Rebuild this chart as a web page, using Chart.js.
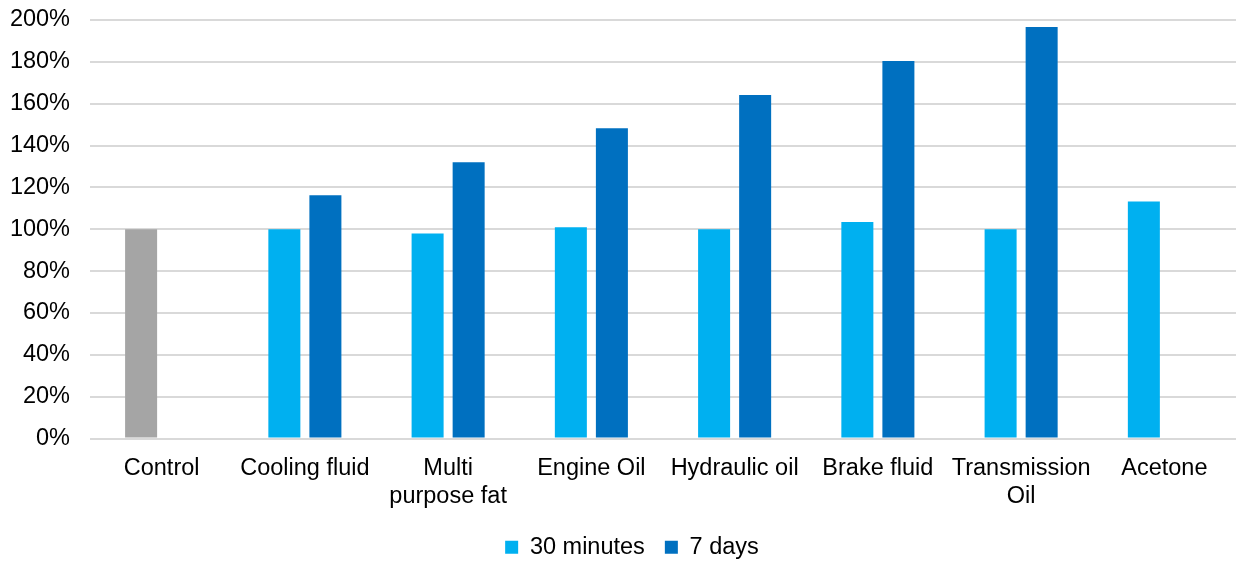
<!DOCTYPE html>
<html>
<head>
<meta charset="utf-8">
<script src="https://cdn.jsdelivr.net/npm/chart.js@4/dist/chart.umd.min.js"></script>
<style>
  html, body { margin: 0; padding: 0; background: #fff; overflow: hidden; }
  #wrap { width: 1239px; height: 569px; }
</style>
</head>
<body>
<div id="wrap"><canvas id="chart"></canvas></div>
<script>
const categories = [
  "Control", "Cooling fluid", ["Multi", "purpose fat"], "Engine Oil",
  "Hydraulic oil", "Brake fluid", ["Transmission", "Oil"], "Acetone"
];
const thirtyMinutes = [100, 100, 98, 101, 100, 103.5, 100, 113.3];
const sevenDays = [null, 116.2, 132, 148.3, 164.2, 180.4, 196.7, null];
const yTicks = [0, 20, 40, 60, 80, 100, 120, 140, 160, 180, 200];

const lightBlue = "#00B0F0";
const darkBlue = "#0070C0";
const grey = "#A5A5A5";

Chart.defaults.font.family = "'Liberation Sans', Arial, sans-serif";
Chart.defaults.font.size = 23.5;
Chart.defaults.color = "#000";

// nudge the legend a bit to the right, like the original
const shiftLegend = {
  id: "shiftLegend",
  afterLayout(chart) {
    chart.legend.left += 14;
    chart.legend.right += 14;
  },
};

const ctx = document.getElementById("chart");

new Chart(ctx, {
  type: "bar",
  data: {
    labels: categories,
    datasets: [
      {
        label: "30 minutes",
        data: thirtyMinutes,
        backgroundColor: thirtyMinutes.map((v, i) => (i === 0 ? grey : lightBlue)),
        categoryPercentage: 0.573,
        barPercentage: 0.78,
      },
      {
        label: "7 days",
        data: sevenDays,
        backgroundColor: darkBlue,
        categoryPercentage: 0.573,
        barPercentage: 0.78,
      },
    ],
  },
  plugins: [shiftLegend],
  options: {
    responsive: true,
    maintainAspectRatio: false,
    animation: false,
    layout: { padding: { top: 20, right: 3, left: 0, bottom: 0 } },
    scales: {
      y: {
        min: 0,
        max: 200,
        afterBuildTicks: (scale) => {
          scale.ticks = yTicks.map((v) => ({ value: v }));
        },
        afterFit: (scale) => {
          scale.width = 90;
          scale.paddingTop = 0;
          scale.paddingBottom = 0;
        },
        ticks: {
          padding: 20,
          callback: (value) => value + "%",
        },
        grid: { color: "#d9d9d9", lineWidth: 2, drawTicks: false },
        border: { display: false },
      },
      x: {
        grid: { display: false },
        border: { display: false },
        afterFit: (scale) => {
          scale.height = 77;
        },
        ticks: { padding: 8, maxRotation: 0, autoSkip: false },
      },
    },
    plugins: {
      legend: {
        position: "bottom",
        labels: {
          boxWidth: 13,
          boxHeight: 13,
          padding: 20,
          generateLabels: (chart) =>
            chart.data.datasets.map((ds, i) => ({
              text: ds.label,
              fillStyle: i === 0 ? lightBlue : darkBlue,
              strokeStyle: "transparent",
              lineWidth: 0,
              datasetIndex: i,
            })),
        },
      },
      tooltip: { enabled: false },
    },
  },
});
</script>
</body>
</html>
